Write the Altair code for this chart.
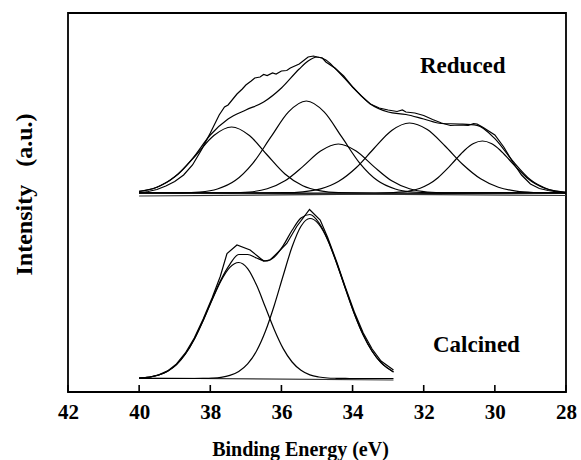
import altair as alt
import pandas as pd

# ---------------- Reduced sample (drawn on an offset of 199 a.u.) ----------------
RED_OFFSET = 199.0

# measured spectrum
red_raw_x = [40.0, 39.75, 39.5, 39.25, 39.0, 38.75, 38.5, 38.25, 38.0, 37.75, 37.6, 37.5,
             37.25, 37.1, 37.0, 36.85, 36.75, 36.6, 36.5, 36.4, 36.25, 36.15, 36.0, 35.85,
             35.75, 35.5, 35.25, 35.1, 35.0, 34.85, 34.75, 34.5, 34.25, 34.0, 33.75, 33.5,
             33.25, 33.0, 32.75, 32.6, 32.5, 32.25, 32.0, 31.75, 31.5, 31.25, 31.0, 30.75,
             30.6, 30.5, 30.35, 30.0, 29.75, 29.5, 29.25, 29.0, 28.75, 28.5, 28.25, 28.0]
red_raw_y = [0.0, 1.5, 3.5, 7.0, 11.5, 18.0, 28.0, 43.0, 60.0, 78.0, 86.0, 88.0,
             99.0, 104.0, 108.0, 112.0, 115.0, 116.0, 118.5, 117.5, 120.0, 119.0, 122.0, 122.5,
             125.0, 129.0, 136.0, 137.0, 136.0, 135.0, 131.0, 125.0, 117.0, 106.0, 97.0, 89.0,
             85.0, 83.0, 81.5, 83.0, 81.0, 80.0, 77.5, 73.5, 70.0, 67.5, 68.0, 67.5,
             69.5, 69.0, 66.0, 58.0, 46.0, 31.0, 18.0, 9.0, 4.5, 2.5, 1.0, 0.0]

# fitted envelope
red_fit_x = [40.0, 39.5, 39.0, 38.5, 38.0, 37.5, 37.0, 36.5, 36.0, 35.5, 35.25, 35.0, 34.75,
             34.5, 34.0, 33.5, 33.0, 32.5, 32.0, 31.5, 31.0, 30.5, 30.0, 29.5, 29.0, 28.5, 28.0]
red_fit_y = [1.6, 5.7, 16.1, 34.3, 58.0, 74.0, 83.0, 91.0, 105.0, 124.0, 132.0, 136.0, 133.0,
             125.0, 106.0, 89.0, 81.0, 78.5, 74.0, 69.5, 69.0, 67.7, 54.3, 32.1, 13.2, 3.8, 0.7]

# fitted components
red_c1_x = [40.0, 39.9, 39.4, 38.9, 38.4, 37.9, 37.4, 36.9, 36.4, 35.9, 35.4, 34.9, 34.4, 33.4, 28.0]
red_c1_y = [1.6, 2.1, 7.2, 19.0, 38.0, 57.5, 66.0, 57.5, 38.0, 19.0, 7.2, 2.1, 0.4, 0.0, 0.0]

red_c2_x = [40.0, 38.8, 38.3, 37.8, 37.3, 36.8, 36.3, 35.8, 35.3, 34.8, 34.3, 33.8, 33.3,
            32.8, 32.3, 31.8, 28.0]
red_c2_y = [0.0, 0.2, 1.0, 4.0, 12.4, 29.9, 55.8, 81.1, 92.0, 81.1, 55.8, 29.9, 12.4,
            4.0, 1.0, 0.2, 0.0]

red_c3_x = [40.0, 37.4, 36.9, 36.4, 35.9, 35.4, 34.9, 34.4, 33.9, 33.4, 32.9, 32.4, 31.9, 31.4, 28.0]
red_c3_y = [0.0, 0.2, 1.0, 4.2, 12.2, 26.4, 42.0, 49.0, 42.0, 26.4, 12.2, 4.2, 1.0, 0.2, 0.0]

red_c4_x = [40.0, 35.9, 35.4, 34.9, 34.4, 33.9, 33.4, 32.9, 32.4, 31.9, 31.4, 30.9, 30.4,
            29.9, 29.4, 28.9, 28.4, 28.0]
red_c4_y = [0.0, 0.3, 1.2, 4.1, 11.4, 25.2, 44.5, 62.5, 70.0, 63.4, 47.0, 28.5, 14.2,
            5.8, 1.9, 0.5, 0.1, 0.0]

red_c5_x = [40.0, 33.35, 32.85, 32.35, 32.1, 31.85, 31.6, 31.35, 31.1, 30.85, 30.6, 30.35,
            30.1, 29.85, 29.6, 29.35, 29.1, 28.85, 28.6, 28.35, 28.0]
red_c5_y = [0.0, 0.0, 0.4, 2.3, 4.8, 8.9, 15.3, 23.8, 33.5, 42.8, 49.5, 52.0,
            49.5, 42.8, 33.5, 23.8, 15.3, 8.9, 4.8, 2.3, 0.7]

# background lines
red_bg1_x = [40.0, 28.0]
red_bg1_y = [-3.0, 0.5]
red_bg2_x = [40.0, 28.0]
red_bg2_y = [0.5, -2.5]

# ---------------- Calcined sample (drawn on an offset of 13.5 a.u.) ----------------
CAL_OFFSET = 13.5

cal_raw_x = [40.0, 39.7, 39.45, 39.2, 38.95, 38.7, 38.45, 38.2, 37.95, 37.72, 37.53, 37.25,
             36.88, 36.5, 36.32, 36.13, 35.85, 35.57, 35.21, 34.91, 34.7, 34.45, 34.2, 33.95,
             33.7, 33.45, 33.2, 32.85]
cal_raw_y = [0.3, 1.3, 3.6, 7.6, 14.5, 25.5, 40.5, 59.5, 80.5, 102.0, 125.0, 133.5,
             128.5, 117.5, 118.5, 125.0, 135.0, 152.0, 169.0, 158.5, 141.0, 117.0, 91.0, 66.5,
             45.5, 29.5, 17.5, 8.5]

cal_x = [40.0, 39.7, 39.45, 39.2, 38.95, 38.7, 38.45, 38.2, 37.95, 37.7, 37.45, 37.2, 36.95,
         36.7, 36.45, 36.2, 35.95, 35.7, 35.45, 35.2, 34.95, 34.7, 34.45, 34.2, 33.95, 33.7,
         33.45, 33.2, 32.85]
cal_fit_y = [0.5, 1.5, 3.5, 7.3, 13.9, 24.5, 39.3, 58.1, 79.0, 98.8, 114.2, 124.0, 124.0,
             120.5, 117.5, 121.5, 132.9, 148.2, 160.5, 164.0, 156.0, 139.1, 115.7, 89.9, 64.8,
             43.5, 27.2, 15.8, 6.6]
cal_c1_y = [0.5, 1.5, 3.5, 7.3, 13.9, 24.5, 39.3, 58.0, 78.6, 97.6, 111.1, 116.0, 109.9,
            93.4, 71.2, 48.8, 29.9, 16.5, 8.2, 3.6, 1.5, 0.5, 0.2, 0.05, 0.0, 0.0,
            0.0, 0.0, 0.0]
cal_c2_y = [0.0, 0.0, 0.0, 0.0, 0.0, 0.0, 0.0, 0.1, 0.4, 1.2, 3.1, 7.0, 14.6,
            27.5, 47.2, 73.3, 103.0, 131.7, 152.3, 160.0, 154.4, 138.6, 115.5, 89.8, 64.8,
            43.5, 27.2, 15.8, 6.6]

cal_bg_x = [40.0, 32.85]
cal_bg_y = [0.5, -1.5]

# x-axis tick values
tick_values = [42, 40, 38, 36, 34, 32, 30, 28]


def curve(name, xs, ys, offset):
    assert len(xs) == len(ys), name
    return pd.DataFrame({"energy": xs,
                         "intensity": [offset + v for v in ys],
                         "curve": name})


smooth = pd.concat([
    curve("reduced fit", red_fit_x, red_fit_y, RED_OFFSET),
    curve("reduced 1", red_c1_x, red_c1_y, RED_OFFSET),
    curve("reduced 2", red_c2_x, red_c2_y, RED_OFFSET),
    curve("reduced 3", red_c3_x, red_c3_y, RED_OFFSET),
    curve("reduced 4", red_c4_x, red_c4_y, RED_OFFSET),
    curve("reduced 5", red_c5_x, red_c5_y, RED_OFFSET),
    curve("calcined fit", cal_x, cal_fit_y, CAL_OFFSET),
    curve("calcined 1", cal_x, cal_c1_y, CAL_OFFSET),
    curve("calcined 2", cal_x, cal_c2_y, CAL_OFFSET),
], ignore_index=True)

raw = pd.concat([
    curve("reduced data", red_raw_x, red_raw_y, RED_OFFSET),
    curve("calcined data", cal_raw_x, cal_raw_y, CAL_OFFSET),
], ignore_index=True)

background = pd.concat([
    curve("reduced bg 1", red_bg1_x, red_bg1_y, RED_OFFSET),
    curve("reduced bg 2", red_bg2_x, red_bg2_y, RED_OFFSET),
    curve("calcined bg", cal_bg_x, cal_bg_y, CAL_OFFSET),
], ignore_index=True)

ticks = pd.DataFrame({"energy": tick_values})

FONT = "Liberation Serif"

x_enc = alt.X(
    "energy:Q",
    scale=alt.Scale(domain=[42, 28], nice=False, zero=False),
    axis=alt.Axis(
        values=tick_values, format="d", title="Binding Energy (eV)",
        ticks=False, tickSize=0, domain=False, grid=False,
        labelFont=FONT, labelFontSize=21, labelFontWeight="bold", labelColor="black",
        labelPadding=26, labelBaseline="alphabetic", labelFlush=False,
        titleFont=FONT, titleFontSize=20, titleFontWeight="bold", titleColor="black",
        titleX=232, titleY=63, titleAlign="center", titleBaseline="alphabetic",
    ),
)
y_enc = alt.Y(
    "intensity:Q",
    scale=alt.Scale(domain=[0, 379], nice=False, zero=False),
    axis=alt.Axis(
        title="Intensity \u00a0\u00a0(a.u.)", labels=False, ticks=False, domain=False, grid=False,
        titleFont=FONT, titleFontSize=24, titleFontWeight="bold", titleColor="black",
        titleX=-44, titleY=181, titleAngle=270, titleAlign="center", titleBaseline="middle",
    ),
)

LINE_W = 1.2

smooth_lines = alt.Chart(smooth).mark_line(
    interpolate="monotone", color="black", strokeWidth=LINE_W
).encode(x=x_enc, y=y_enc, detail="curve:N")

raw_lines = alt.Chart(raw).mark_line(color="black", strokeWidth=LINE_W).encode(
    x=x_enc, y=y_enc, detail="curve:N")

bg_lines = alt.Chart(background).mark_line(color="#333333", strokeWidth=LINE_W).encode(
    x=x_enc, y=y_enc, detail="curve:N")

tick_marks = alt.Chart(ticks).mark_rule(color="black", strokeWidth=1.6).encode(
    x=x_enc, y=alt.value(379), y2=alt.value(372))

label_reduced = alt.Chart().mark_text(
    text="Reduced", font=FONT, fontSize=23, fontWeight="bold", color="black",
    align="left", baseline="alphabetic"
).encode(x=alt.value(352), y=alt.value(59.5))

label_calcined = alt.Chart().mark_text(
    text="Calcined", font=FONT, fontSize=23, fontWeight="bold", color="black",
    align="left", baseline="alphabetic"
).encode(x=alt.value(365), y=alt.value(338.5))

chart = alt.layer(
    bg_lines, smooth_lines, raw_lines, tick_marks, label_reduced, label_calcined
).properties(
    width=498, height=379,
    autosize=alt.AutoSizeParams(type="none"),
    padding={"left": 68, "top": 13, "right": 15, "bottom": 68},
    background="white",
).configure_view(stroke="black", strokeWidth=1.8)

chart.save("out.html", embed_options={"renderer": "svg", "actions": False})
